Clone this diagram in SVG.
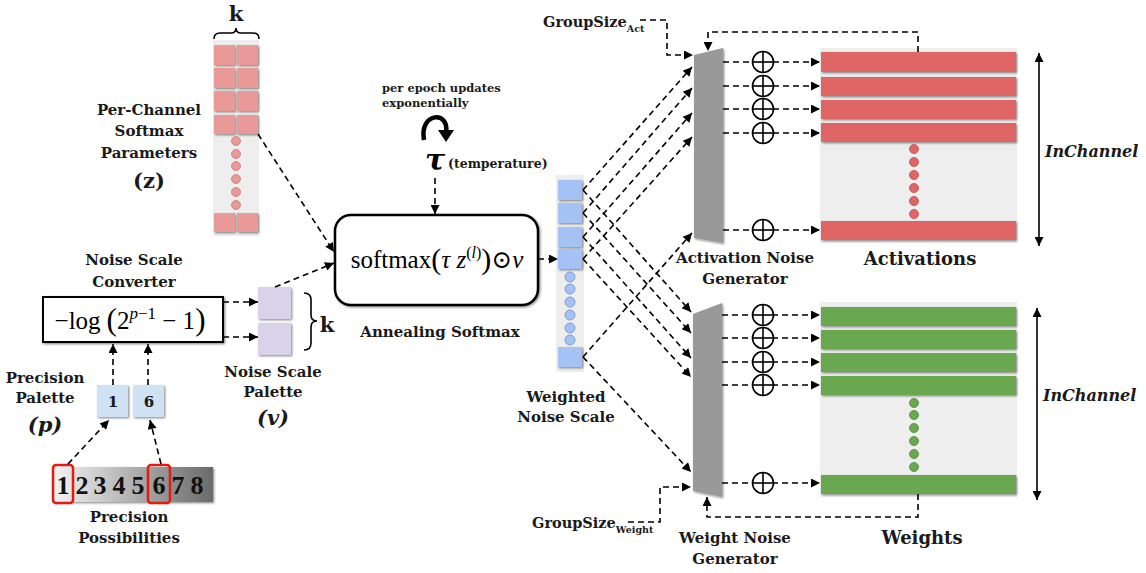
<svg xmlns="http://www.w3.org/2000/svg" width="1146" height="573" viewBox="0 0 1146 573">
<style>
.lbl{font-family:"DejaVu Serif","Liberation Serif",serif;font-weight:bold;fill:#1a1a1a;text-anchor:middle}
.math{font-family:"Liberation Serif","DejaVu Serif",serif;fill:#000}
.dash{fill:none;stroke:#000;stroke-width:1.6;stroke-dasharray:6 4}
.solid{fill:none;stroke:#000;stroke-width:1.6}
.red{fill:#e06666}
.grn{fill:#6aa84f}
.pink{fill:#ea9999}
.blue{fill:#a4c2f4}
.bg{fill:#eeeeee}
.plus circle{fill:#fff;stroke:#000;stroke-width:1.6}
.plus line{stroke:#000;stroke-width:1.6}
</style>
<defs>
<marker id="ah" viewBox="0 0 10 10" refX="10" refY="5" markerWidth="11" markerHeight="9" markerUnits="userSpaceOnUse" orient="auto-start-reverse"><path d="M0,0 L10,5 L0,10 z" fill="#000"/></marker>
<filter id="sh" x="-20%" y="-20%" width="140%" height="140%"><feDropShadow dx="1.2" dy="1.2" stdDeviation="1" flood-color="#000" flood-opacity="0.45"/></filter>
<linearGradient id="gr" x1="0" x2="1" y1="0" y2="0"><stop offset="0" stop-color="#f4f4f4"/><stop offset="1" stop-color="#6a6a6a"/></linearGradient>
</defs>

<!-- Per-channel softmax parameters -->
<g id="z-params">
<rect class="bg" x="213" y="40" width="46" height="196"/>
<g class="pink" filter="url(#sh)">
<rect x="214" y="45" width="21" height="20"/><rect x="237" y="45" width="21" height="20"/>
<rect x="214" y="68" width="21" height="20"/><rect x="237" y="68" width="21" height="20"/>
<rect x="214" y="91" width="21" height="20"/><rect x="237" y="91" width="21" height="20"/>
<rect x="214" y="115" width="21" height="19"/><rect x="237" y="115" width="21" height="19"/>
<rect x="214" y="213" width="21" height="19"/><rect x="237" y="213" width="21" height="19"/>
</g>
<g class="pink" stroke="#c97a7a" stroke-width="0.8">
<circle cx="236" cy="141" r="4.5"/><circle cx="236" cy="154" r="4.5"/><circle cx="236" cy="166" r="4.5"/>
<circle cx="236" cy="179" r="4.5"/><circle cx="236" cy="192" r="4.5"/><circle cx="236" cy="205" r="4.5"/>
</g>
<path class="solid" d="M214,39 Q214,33 220,33 L231,33 Q236,33 236,28 Q236,33 241,33 L253,33 Q259,33 259,39"/>
<text class="lbl" x="236" y="21" font-size="21">k</text>
<text class="lbl" x="149" y="115" font-size="15">Per-Channel</text>
<text class="lbl" x="149" y="136" font-size="15">Softmax</text>
<text class="lbl" x="149" y="158" font-size="15">Parameters</text>
<text class="lbl" x="149" y="188" font-size="21">(z)</text>
</g>

<!-- Noise scale converter -->
<g id="converter">
<text class="lbl" x="134" y="265" font-size="15">Noise Scale</text>
<text class="lbl" x="134" y="287" font-size="15">Converter</text>
<rect x="43" y="297" width="180" height="45" fill="#fff" stroke="#000" stroke-width="2" filter="url(#sh)"/>
<text class="math" x="130" y="329" font-size="25" text-anchor="middle">−log<tspan dx="6" font-size="31" dy="1">(</tspan><tspan dy="-1">2</tspan><tspan dy="-10" font-size="17" font-style="italic">p</tspan><tspan font-size="17">−1</tspan><tspan dy="10"> − 1</tspan><tspan font-size="31" dy="1">)</tspan></text>
</g>

<!-- Noise scale palette -->
<g id="noise-palette">
<rect x="258" y="287" width="33" height="32" fill="#d9d2e9" filter="url(#sh)"/>
<rect x="258" y="323" width="33" height="32" fill="#d9d2e9" filter="url(#sh)"/>
<path class="solid" d="M304,293 Q311,293 311,300 L311,315 Q311,321 317,321 Q311,321 311,327 L311,343 Q311,350 304,350"/>
<text class="lbl" x="327" y="332" font-size="21">k</text>
<text class="lbl" x="273" y="377" font-size="15">Noise Scale</text>
<text class="lbl" x="273" y="397" font-size="15">Palette</text>
<text class="lbl" x="273" y="425" font-size="21" font-style="italic">(v)</text>
</g>

<!-- Precision palette -->
<g id="precision-palette">
<rect x="97" y="385" width="31" height="32" fill="#cfe2f3" filter="url(#sh)"/>
<rect x="133" y="385" width="31" height="32" fill="#cfe2f3" filter="url(#sh)"/>
<text class="lbl" x="113" y="407" font-size="15">1</text>
<text class="lbl" x="149" y="407" font-size="15">6</text>
<text class="lbl" x="45" y="383" font-size="15">Precision</text>
<text class="lbl" x="45" y="403" font-size="15">Palette</text>
<text class="lbl" x="45" y="432" font-size="21" font-style="italic">(p)</text>
</g>

<!-- Precision possibilities -->
<g id="precision-possibilities">
<rect x="53" y="467" width="160" height="35" fill="url(#gr)" filter="url(#sh)"/>
<g font-family="Liberation Serif, serif" font-weight="bold" font-size="26" fill="#111" text-anchor="middle">
<text x="63" y="494">1</text><text x="82" y="494">2</text><text x="100" y="494">3</text><text x="119" y="494">4</text>
<text x="138" y="494">5</text><text x="159" y="494">6</text><text x="178" y="494">7</text><text x="197" y="494">8</text>
</g>
<rect x="53" y="465" width="20" height="38" rx="3" fill="none" stroke="#e8190e" stroke-width="2.5"/>
<rect x="148" y="465" width="22" height="38" rx="3" fill="none" stroke="#e8190e" stroke-width="2.5"/>
<text class="lbl" x="129" y="522" font-size="15">Precision</text>
<text class="lbl" x="129" y="543" font-size="15">Possibilities</text>
</g>

<!-- Annealing softmax -->
<g id="annealing-softmax">
<text x="382" y="92" font-family="DejaVu Serif, serif" font-weight="bold" font-size="11.5" fill="#1a1a1a">per epoch updates</text>
<text x="382" y="107" font-family="DejaVu Serif, serif" font-weight="bold" font-size="11.5" fill="#1a1a1a">exponentially</text>
<path d="M424,140 C419,112 450,110 446,133" fill="none" stroke="#000" stroke-width="4.5"/>
<path d="M438,130 L454,130 L446,142 z" fill="#000"/>
<text x="435" y="170" font-family="DejaVu Serif, serif" font-weight="bold" font-style="italic" font-size="30" text-anchor="middle" fill="#000">τ</text>
<text x="448" y="168" font-family="DejaVu Serif, serif" font-weight="bold" font-size="12.5" fill="#1a1a1a">(temperature)</text>
<rect x="335" y="215" width="203" height="90" rx="16" fill="#fff" stroke="#000" stroke-width="2.5" filter="url(#sh)"/>
<text class="math" x="437" y="268" font-size="25" text-anchor="middle">softmax<tspan font-size="30" dy="1">(</tspan><tspan font-style="italic" dy="-1">τ z</tspan><tspan dy="-10" font-size="16">(<tspan font-style="italic">l</tspan>)</tspan><tspan dy="11" font-size="30">)</tspan><tspan dy="-1">⊙</tspan><tspan font-style="italic">v</tspan></text>
<text class="lbl" x="440" y="337" font-size="15">Annealing Softmax</text>
</g>

<!-- Weighted noise scale -->
<g id="weighted-noise-scale">
<rect class="bg" x="556" y="175" width="28" height="197"/>
<g class="blue" filter="url(#sh)">
<rect x="558" y="180" width="24" height="20"/><rect x="558" y="203" width="24" height="20"/>
<rect x="558" y="227" width="24" height="20"/><rect x="558" y="249" width="24" height="20"/>
<rect x="558" y="347" width="24" height="20"/>
</g>
<g class="blue" stroke="#6d8fc7" stroke-width="0.8">
<circle cx="570" cy="277" r="5"/><circle cx="570" cy="289" r="5"/><circle cx="570" cy="302" r="5"/>
<circle cx="570" cy="315" r="5"/><circle cx="570" cy="328" r="5"/><circle cx="570" cy="340" r="5"/>
</g>
<text class="lbl" x="566" y="402" font-size="15">Weighted</text>
<text class="lbl" x="566" y="422" font-size="15">Noise Scale</text>
</g>

<!-- Activation noise generator -->
<g id="activation-generator">
<polygon points="694,55 723,48 723,243 694,238" fill="#999" filter="url(#sh)"/>
<text class="lbl" x="745" y="263" font-size="15">Activation Noise</text>
<text class="lbl" x="745" y="284" font-size="15">Generator</text>
</g>

<!-- Weight noise generator -->
<g id="weight-generator">
<polygon points="693,314 722,303 722,497 693,491" fill="#999" filter="url(#sh)"/>
<text class="lbl" x="735" y="543" font-size="15">Weight Noise</text>
<text class="lbl" x="735" y="564" font-size="15">Generator</text>
</g>

<!-- Activations -->
<g id="activations">
<rect class="bg" x="820" y="48" width="197" height="195"/>
<g class="red" filter="url(#sh)">
<rect x="821" y="52" width="195" height="20"/><rect x="821" y="77" width="195" height="19"/>
<rect x="821" y="100" width="195" height="19"/><rect x="821" y="123" width="195" height="19"/>
<rect x="821" y="221" width="195" height="19"/>
</g>
<g class="red" stroke="#b84c4c" stroke-width="0.8">
<circle cx="914" cy="149" r="4.5"/><circle cx="914" cy="162" r="4.5"/><circle cx="914" cy="175" r="4.5"/>
<circle cx="914" cy="188" r="4.5"/><circle cx="914" cy="201" r="4.5"/><circle cx="914" cy="214" r="4.5"/>
</g>
<text class="lbl" x="920" y="265" font-size="18">Activations</text>
<line class="solid" x1="1039" y1="53" x2="1039" y2="246" marker-start="url(#ah)" marker-end="url(#ah)"/>
<text x="1045" y="157" font-family="DejaVu Serif, serif" font-weight="bold" font-style="italic" font-size="16" fill="#1a1a1a">InChannel</text>
</g>

<!-- Weights -->
<g id="weights">
<rect class="bg" x="820" y="302" width="197" height="195"/>
<g class="grn" filter="url(#sh)">
<rect x="821" y="307" width="195" height="19"/><rect x="821" y="330" width="195" height="19"/>
<rect x="821" y="353" width="195" height="19"/><rect x="821" y="376" width="195" height="19"/>
<rect x="821" y="475" width="195" height="19"/>
</g>
<g class="grn" stroke="#4e8a36" stroke-width="0.8">
<circle cx="914" cy="403" r="4.5"/><circle cx="914" cy="415" r="4.5"/><circle cx="914" cy="428" r="4.5"/>
<circle cx="914" cy="441" r="4.5"/><circle cx="914" cy="454" r="4.5"/><circle cx="914" cy="467" r="4.5"/>
</g>
<text class="lbl" x="922" y="544" font-size="18">Weights</text>
<line class="solid" x1="1037" y1="308" x2="1037" y2="500" marker-start="url(#ah)" marker-end="url(#ah)"/>
<text x="1043" y="401" font-family="DejaVu Serif, serif" font-weight="bold" font-style="italic" font-size="16" fill="#1a1a1a">InChannel</text>
</g>

<!-- Group size labels -->
<g id="groupsize-act">
<text x="543" y="27" font-family="DejaVu Serif, serif" font-weight="bold" font-size="14.5" fill="#1a1a1a">GroupSize<tspan dy="5" font-size="9.5">Act</tspan></text>
</g>
<g id="groupsize-weight">
<text x="532" y="528" font-family="DejaVu Serif, serif" font-weight="bold" font-size="14.5" fill="#1a1a1a">GroupSize<tspan dy="5" font-size="9.5">Weight</tspan></text>
</g>

<!-- Connectors -->
<g id="connectors">
<path class="dash" d="M258,134 L334,252" marker-end="url(#ah)"/>
<path class="dash" d="M275,287 L334,263" marker-end="url(#ah)"/>
<path class="dash" d="M223,302 L258,302" marker-end="url(#ah)"/>
<path class="dash" d="M223,337 L258,337" marker-end="url(#ah)"/>
<path class="dash" d="M113,385 L113,344" marker-end="url(#ah)"/>
<path class="dash" d="M148,385 L148,344" marker-end="url(#ah)"/>
<path class="dash" d="M68,464 L109,420" marker-end="url(#ah)"/>
<path class="dash" d="M161,464 L150,420" marker-end="url(#ah)"/>
<path class="dash" d="M435,178 L435,214" marker-end="url(#ah)"/>
<path class="dash" d="M538,259 L558,259" marker-end="url(#ah)"/>

<path class="dash" d="M583,190 L692,67" marker-end="url(#ah)"/>
<path class="dash" d="M583,213 L692,88" marker-end="url(#ah)"/>
<path class="dash" d="M583,237 L692,113" marker-end="url(#ah)"/>
<path class="dash" d="M583,259 L692,137" marker-end="url(#ah)"/>
<path class="dash" d="M583,357 L692,233" marker-end="url(#ah)"/>
<path class="dash" d="M583,190 L691,312" marker-end="url(#ah)"/>
<path class="dash" d="M583,213 L691,333" marker-end="url(#ah)"/>
<path class="dash" d="M583,237 L691,358" marker-end="url(#ah)"/>
<path class="dash" d="M583,259 L691,377" marker-end="url(#ah)"/>
<path class="dash" d="M583,357 L691,472" marker-end="url(#ah)"/>

<path class="dash" d="M640,20 L667,20 L667,55 L693,55" marker-end="url(#ah)"/>
<path class="dash" d="M918,52 L918,32 L708,32 L708,51" marker-end="url(#ah)"/>
<path class="dash" d="M628,522 L660,522 L660,487 L691,487" marker-end="url(#ah)"/>
<path class="dash" d="M918,494 L918,517 L707,517 L707,497" marker-end="url(#ah)"/>

<path class="dash" d="M723,62 L820,62" marker-end="url(#ah)"/>
<path class="dash" d="M723,86 L820,86" marker-end="url(#ah)"/>
<path class="dash" d="M723,109 L820,109" marker-end="url(#ah)"/>
<path class="dash" d="M723,133 L820,133" marker-end="url(#ah)"/>
<path class="dash" d="M723,230 L820,230" marker-end="url(#ah)"/>
<path class="dash" d="M722,315 L820,315" marker-end="url(#ah)"/>
<path class="dash" d="M722,338 L820,338" marker-end="url(#ah)"/>
<path class="dash" d="M722,362 L820,362" marker-end="url(#ah)"/>
<path class="dash" d="M722,385 L820,385" marker-end="url(#ah)"/>
<path class="dash" d="M722,483 L820,483" marker-end="url(#ah)"/>

<g class="plus">
<circle cx="763" cy="62" r="10.5"/><line x1="763" y1="51.5" x2="763" y2="72.5"/><line x1="752.5" y1="62" x2="773.5" y2="62"/>
<circle cx="763" cy="86" r="10.5"/><line x1="763" y1="75.5" x2="763" y2="96.5"/><line x1="752.5" y1="86" x2="773.5" y2="86"/>
<circle cx="763" cy="109" r="10.5"/><line x1="763" y1="98.5" x2="763" y2="119.5"/><line x1="752.5" y1="109" x2="773.5" y2="109"/>
<circle cx="763" cy="133" r="10.5"/><line x1="763" y1="122.5" x2="763" y2="143.5"/><line x1="752.5" y1="133" x2="773.5" y2="133"/>
<circle cx="763" cy="230" r="10.5"/><line x1="763" y1="219.5" x2="763" y2="240.5"/><line x1="752.5" y1="230" x2="773.5" y2="230"/>
<circle cx="763" cy="315" r="10.5"/><line x1="763" y1="304.5" x2="763" y2="325.5"/><line x1="752.5" y1="315" x2="773.5" y2="315"/>
<circle cx="763" cy="338" r="10.5"/><line x1="763" y1="327.5" x2="763" y2="348.5"/><line x1="752.5" y1="338" x2="773.5" y2="338"/>
<circle cx="763" cy="362" r="10.5"/><line x1="763" y1="351.5" x2="763" y2="372.5"/><line x1="752.5" y1="362" x2="773.5" y2="362"/>
<circle cx="763" cy="385" r="10.5"/><line x1="763" y1="374.5" x2="763" y2="395.5"/><line x1="752.5" y1="385" x2="773.5" y2="385"/>
<circle cx="763" cy="483" r="10.5"/><line x1="763" y1="472.5" x2="763" y2="493.5"/><line x1="752.5" y1="483" x2="773.5" y2="483"/>
</g>
</g>
</svg>
